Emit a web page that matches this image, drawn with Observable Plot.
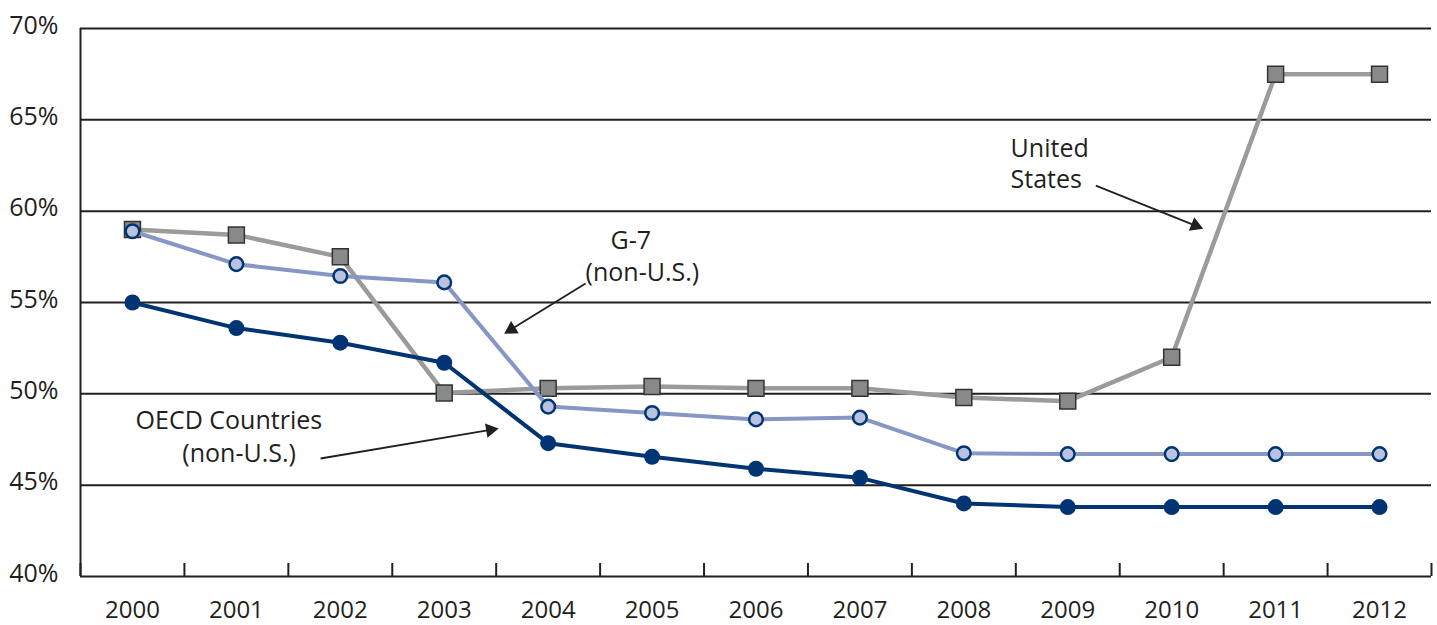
<!DOCTYPE html>
<html>
<head>
<meta charset="utf-8">
<script src="https://cdn.jsdelivr.net/npm/d3@7"></script>
<script src="https://cdn.jsdelivr.net/npm/@observablehq/plot@0.6"></script>
<style>
  html, body { margin: 0; padding: 0; background: #fff; }
  #chart svg { display: block; }
</style>
</head>
<body>
<div id="chart"></div>
<script>
// ---- data ----
const years = [2000, 2001, 2002, 2003, 2004, 2005, 2006, 2007, 2008, 2009, 2010, 2011, 2012];
const unitedStates = [59.0, 58.7, 57.5, 50.05, 50.3, 50.4, 50.3, 50.3, 49.8, 49.6, 52.0, 67.5, 67.5];
const g7NonUS = [58.9, 57.1, 56.45, 56.1, 49.3, 48.95, 48.6, 48.7, 46.75, 46.7, 46.7, 46.7, 46.7];
const oecdNonUS = [55.0, 53.6, 52.8, 51.7, 47.3, 46.55, 45.9, 45.4, 44.0, 43.8, 43.8, 43.8, 43.8];
const yTicks = [40, 45, 50, 55, 60, 65, 70];
const gridValues = [45, 50, 55, 60, 65, 70];
const bandEdges = [1999.5, 2000.5, 2001.5, 2002.5, 2003.5, 2004.5, 2005.5, 2006.5, 2007.5, 2008.5, 2009.5, 2010.5, 2011.5, 2012.5];

// annotation labels (one row per text line; left-aligned)
const labelText = ["United", "States", "G-7", "(non-U.S.)", "OECD Countries", "(non-U.S.)"];
const labelX = [2008.45, 2008.45, 2004.60, 2004.36, 2000.03, 2000.48];
const labelY = [63.43, 61.68, 58.39, 56.64, 48.54, 46.73];

// annotation arrows: start and tip (in data units)
const arrowX1 = [2009.27, 2004.36, 2001.81];
const arrowY1 = [61.40, 56.04, 46.46];
const arrowX2 = [2010.30, 2003.58, 2003.52];
const arrowY2 = [59.05, 53.30, 48.10];

// ---- build tables ----
const usData = years.map((y, i) => ({year: y, value: unitedStates[i]}));
const g7Data = years.map((y, i) => ({year: y, value: g7NonUS[i]}));
const oecdData = years.map((y, i) => ({year: y, value: oecdNonUS[i]}));
const labels = labelText.map((t, i) => ({text: t, x: labelX[i], y: labelY[i]}));

const FONT = "'Open Sans', 'Noto Sans', sans-serif";
const NAVY = "#003473";
const HEAD_BACK = 8; // centroid offset of arrow head triangle

function makeChart(arrows) {
  return Plot.plot({
    width: 1437,
    height: 625,
    marginLeft: 80,
    marginRight: 6,
    marginTop: 28,
    marginBottom: 49,
    style: {fontFamily: FONT, fontSize: "25px", color: "#231f20", background: "#fff"},
    x: {type: "linear", domain: [1999.5, 2012.5]},
    y: {domain: [40, 70]},
    marks: [
      // gridlines
      Plot.ruleY(gridValues, {stroke: "#231f20", strokeWidth: 2}),
      // axis lines
      Plot.ruleY([40], {stroke: "#231f20", strokeWidth: 2}),
      Plot.ruleX([1999.5], {stroke: "#231f20", strokeWidth: 2}),
      // inward ticks at band edges
      Plot.ruleX(bandEdges, {x: d => d, y1: 40, y2: 40, insetBottom: 13, stroke: "#231f20", strokeWidth: 2}),
      // axes labels
      Plot.axisY(yTicks, {tickSize: 0, tickPadding: 22, tickFormat: d => d + "%", dy: -3, fontSize: 25, fill: "#231f20"}),
      Plot.axisX(years, {tickSize: 0, tickPadding: 24, tickFormat: d => String(d), fontSize: 24, fill: "#231f20"}),
      // series: United States
      Plot.line(usData, {x: "year", y: "value", stroke: "#9b9b9b", strokeWidth: 4.5}),
      Plot.dot(usData, {x: "year", y: "value", symbol: "square", r: 9, fill: "#88898b", stroke: "#333", strokeWidth: 1.5}),
      // G-7
      Plot.line(g7Data, {x: "year", y: "value", stroke: "#8696c5", strokeWidth: 4}),
      Plot.dot(g7Data, {x: "year", y: "value", r: 6.8, fill: "#b9c3e0", stroke: NAVY, strokeWidth: 2.5}),
      // OECD
      Plot.line(oecdData, {x: "year", y: "value", stroke: NAVY, strokeWidth: 4}),
      Plot.dot(oecdData, {x: "year", y: "value", r: 8, fill: NAVY}),
      // annotations
      Plot.text(labels, {x: "x", y: "y", text: "text", textAnchor: "start", fontSize: 25, fill: "#231f20"}),
      Plot.link(arrows, {x1: "x1", y1: "y1", x2: "hx", y2: "hy", stroke: "#231f20", strokeWidth: 1.8}),
      Plot.dot(arrows, {x: "hx", y: "hy", symbol: "triangle", r: 5.4, fill: "#231f20", rotate: "rot"})
    ]
  });
}

// first pass to get scales
let arrows = arrowX1.map((x, i) => ({x1: x, y1: arrowY1[i], hx: arrowX2[i], hy: arrowY2[i], rot: 0}));
const first = makeChart(arrows);
const sx = first.scale("x"), sy = first.scale("y");
arrows = arrows.map((a, i) => {
  const px1 = sx.apply(a.x1), py1 = sy.apply(a.y1);
  const px2 = sx.apply(arrowX2[i]), py2 = sy.apply(arrowY2[i]);
  const dx = px2 - px1, dy = py2 - py1, len = Math.hypot(dx, dy);
  const cx = px2 - HEAD_BACK * dx / len, cy = py2 - HEAD_BACK * dy / len;
  const ang = Math.atan2(dy, dx) * 180 / Math.PI;
  return {x1: a.x1, y1: a.y1, hx: sx.invert(cx), hy: sy.invert(cy), rot: ang + 90};
});
document.getElementById("chart").append(makeChart(arrows));
</script>
</body>
</html>
